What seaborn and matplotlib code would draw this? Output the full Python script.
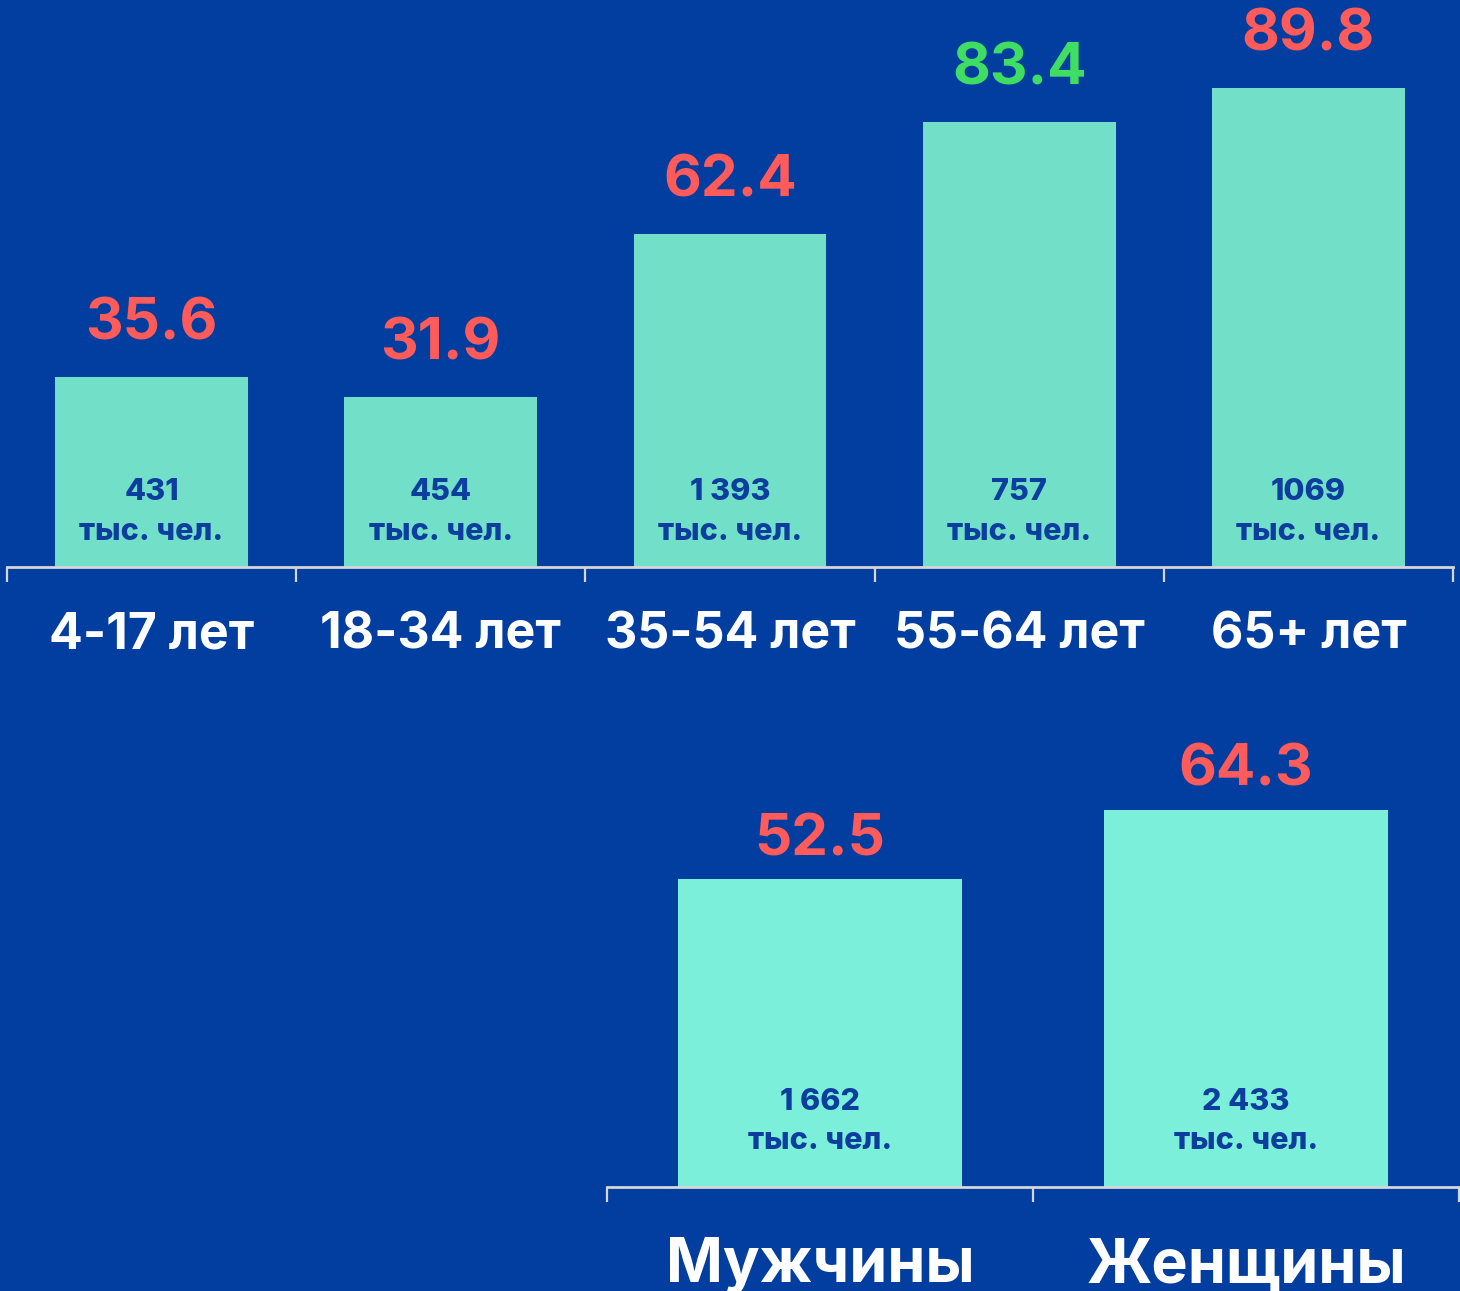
import matplotlib
matplotlib.use("Agg")
import matplotlib.pyplot as plt
import seaborn as sns
import pandas as pd

# данные
age_groups = ["4-17 лет", "18-34 лет", "35-54 лет", "55-64 лет", "65+ лет"]
age_values = [35.6, 31.9, 62.4, 83.4, 89.8]
age_counts = ["431", "454", "1 393", "757", "1069"]
age_label_colors = ["#FF5B5B", "#FF5B5B", "#FF5B5B", "#3FDD62", "#FF5B5B"]

sex_groups = ["Мужчины", "Женщины"]
sex_values = [52.5, 64.3]
sex_counts = ["1 662", "2 433"]

unit = "тыс. чел."

BG = "#013E9F"
INNER = "#0D3E9E"

sns.set_theme(style="white")
plt.rcParams["font.family"] = ["Inter", "Noto Sans", "DejaVu Sans"]

fig = plt.figure(figsize=(14.6, 12.91), dpi=100)
fig.patch.set_facecolor(BG)

W, H = 1460, 1291
ax1 = fig.add_axes([7 / W, (H - 567) / H, 1446 / W, 567 / H])
ax2 = fig.add_axes([607 / W, (H - 1187) / H, 852 / W, 487 / H])

df_age = pd.DataFrame({"group": age_groups, "value": age_values})
df_sex = pd.DataFrame({"group": sex_groups, "value": sex_values})

sns.barplot(data=df_age, x="group", y="value", color="#72DFC9", saturation=1,
            width=0.667, linewidth=0, ax=ax1)
sns.barplot(data=df_sex, x="group", y="value", color="#7BEFDA", saturation=1,
            width=0.667, linewidth=0, ax=ax2)


def style_axis(ax, n, ymax, label_size, label_pad):
    ax.set_facecolor(BG)
    ax.set_xlim(-0.5, n - 0.5)
    ax.set_ylim(0, ymax)
    for s in ["top", "right", "left"]:
        ax.spines[s].set_visible(False)
    ax.spines["bottom"].set_color("#D6D6D6")
    ax.spines["bottom"].set_linewidth(2)
    ax.set_yticks([])
    ax.set_xlabel("")
    ax.set_ylabel("")
    ax.set_xticks(range(n))
    ax.set_xticks([i - 0.5 for i in range(n + 1)], minor=True)
    ax.tick_params(axis="x", which="major", bottom=True, length=0,
                   pad=label_pad, labelsize=label_size, labelcolor="white")
    ax.tick_params(axis="x", which="minor", bottom=True, length=11, width=1.6,
                   color="#D6D6D6", direction="out")
    for t in ax.get_xticklabels():
        t.set_fontweight("bold")


style_axis(ax1, len(age_groups), 567 / 5.33, 36, 32)
style_axis(ax2, len(sex_groups), 487 / 5.87, 44, 36)

for i, (v, c, col) in enumerate(zip(age_values, age_counts, age_label_colors)):
    ax1.annotate(f"{v}", (i, v), xytext=(0, 27), textcoords="offset points",
                 ha="center", va="baseline", fontsize=42, fontweight="bold",
                 color=col)
    ax1.annotate(c, (i, 0), xytext=(0, 54), textcoords="offset points",
                 ha="center", va="center", fontsize=22, fontweight="heavy",
                 color=INNER)
    ax1.annotate(unit, (i, 0), xytext=(0, 25), textcoords="offset points",
                 ha="center", va="center", fontsize=22, fontweight="heavy",
                 color=INNER)

for i, (v, c) in enumerate(zip(sex_values, sex_counts)):
    ax2.annotate(f"{v}", (i, v), xytext=(0, 17), textcoords="offset points",
                 ha="center", va="baseline", fontsize=42, fontweight="bold",
                 color="#FF5B5B")
    ax2.annotate(c, (i, 0), xytext=(0, 61), textcoords="offset points",
                 ha="center", va="center", fontsize=22, fontweight="heavy",
                 color=INNER)
    ax2.annotate(unit, (i, 0), xytext=(0, 33), textcoords="offset points",
                 ha="center", va="center", fontsize=22, fontweight="heavy",
                 color=INNER)

fig.savefig("out.png", dpi=100, facecolor=BG)
